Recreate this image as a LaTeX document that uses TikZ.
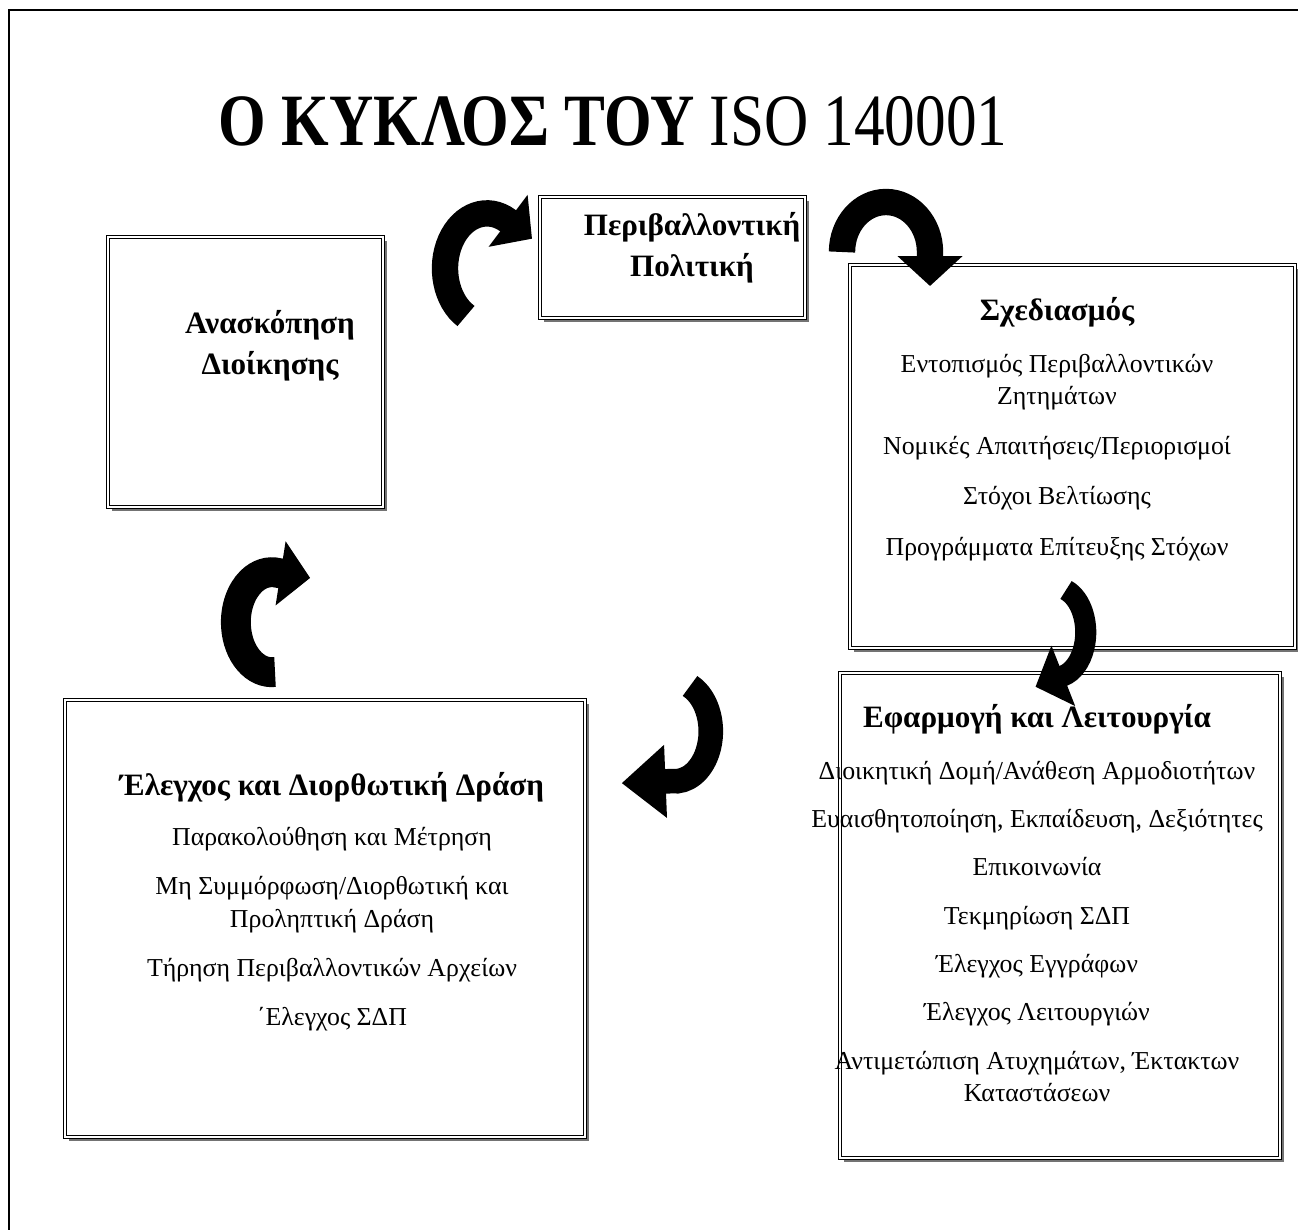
\documentclass[tikz,border=0pt]{standalone}
\usepackage{fontspec}
\setmainfont{Liberation Serif}
\usetikzlibrary{arrows.meta,fit,shadows,positioning}
\newcommand{\bodytxt}{\fontsize{14.7pt}{18.5pt}\selectfont}
\newcommand{\headtxt}{\fontsize{17.7pt}{23.5pt}\selectfont\bfseries}

\begin{document}
\begin{tikzpicture}[x=0.02cm,y=-0.02cm,
  boxframe/.style={draw, fill=white, line width=1pt, double distance=0.8pt, inner sep=0pt,
    drop shadow={shadow xshift=2.4pt, shadow yshift=-2.4pt, fill=black!55, opacity=1}},
  txt/.style={align=center, inner sep=0pt, anchor=north, font=\bodytxt},
  bigarrow/.style={line width=15pt, -{Triangle[length=17pt, width=36pt]}}]
\useasboundingbox (0,0) rectangle (1298,1230);
\draw[line width=1.7pt] (9,1230) -- (9,10) -- (1298,10);

\node (title) at (613,121) {\scalebox{0.83}[1]{\fontsize{42pt}{42pt}\selectfont\bfseries Ο ΚΥΚΛΟΣ ΤΟΥ \mdseries ISO 140001}};

% boxes
\node (pol) [boxframe, fit={(540,197) (805,318)}] {};
\node (sxed) [boxframe, fit={(850,265) (1295,648)}] {};
\node (anask) [boxframe, fit={(108,237) (383,507)}] {};
\node (efarm) [boxframe, fit={(840,673) (1280,1158)}] {};
\node (elegx) [boxframe, fit={(65,700) (585,1137)}] {};

\node (poltxt) [txt, font=\headtxt] at (692,212) {Περιβαλλοντική\\Πολιτική};
\node (anasktxt) [txt, font=\headtxt] at (270,310) {Ανασκόπηση\\Διοίκησης};
\node (sxedtxt) [txt] at (1057,297) {{\headtxt Σχεδιασμός}\\[11pt]
  Εντοπισμός Περιβαλλοντικών\\Ζητημάτων\\[10pt]
  Νομικές Απαιτήσεις/Περιορισμοί\\[10pt]
  Στόχοι Βελτίωσης\\[10pt]
  Προγράμματα Επίτευξης Στόχων};
\node (efarmtxt) [txt] at (1037,704) {{\headtxt Εφαρμογή και Λειτουργία}\\[11pt]
  Διοικητική Δομή/Ανάθεση Αρμοδιοτήτων\\[9pt]
  Ευαισθητοποίηση, Εκπαίδευση, Δεξιότητες\\[9pt]
  Επικοινωνία\\[9pt]
  Τεκμηρίωση ΣΔΠ\\[9pt]
  Έλεγχος Εγγράφων\\[9pt]
  Έλεγχος Λειτουργιών\\[9pt]
  Αντιμετώπιση Ατυχημάτων, Έκτακτων\\Καταστάσεων};
\node (elegxtxt) [txt] at (332,772) {{\headtxt Έλεγχος και Διορθωτική Δράση}\\[10pt]
  Παρακολούθηση και Μέτρηση\\[9.5pt]
  Μη Συμμόρφωση/Διορθωτική και\\Προληπτική Δράση\\[9.5pt]
  Τήρηση Περιβαλλοντικών Αρχείων\\[9.5pt]
  ΄Ελεγχος ΣΔΠ};

% cycle arrows
\coordinate (a1) at (466,316);
\coordinate (a2) at (842,252);
\coordinate (a3) at (1066,590);
\coordinate (a4) at (690,686);
\coordinate (a5) at (275,672);
\draw[bigarrow] (a1) arc[start angle=120, end angle=300, x radius=42, y radius=55] -- ++(24,18);
\draw[bigarrow] (a2) arc[start angle=180, end angle=360, x radius=44, y radius=50] -- ++(0,34);
\draw[bigarrow, line width=12pt] (a3) arc[start angle=-70, end angle=75, x radius=30, y radius=45] -- ++(-28,11);
\draw[bigarrow, line width=14pt, -{Triangle[length=25pt, width=40pt]}] (a4) arc[start angle=-65, end angle=95, x radius=36, y radius=50] -- ++(-50,2);
\draw[bigarrow, line width=17pt] (a5) arc[start angle=85, end angle=280, x radius=36, y radius=50] -- ++(32,5);
\end{tikzpicture}
\end{document}
